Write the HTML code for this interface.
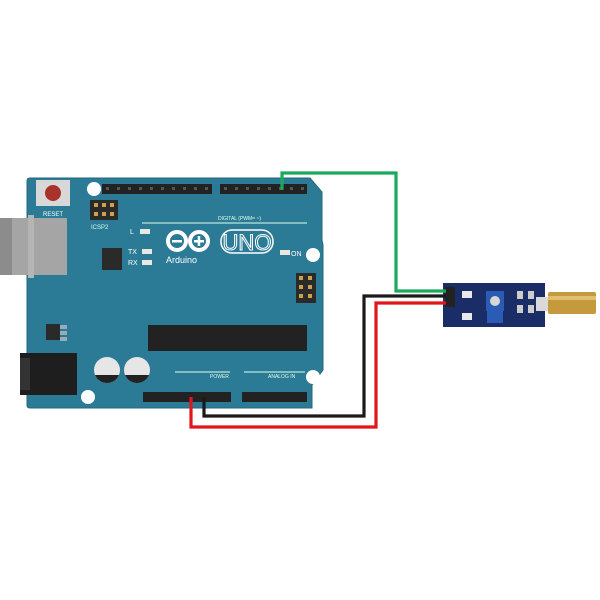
<!DOCTYPE html>
<html><head><style>body{margin:0;background:#fff}svg{display:block}</style></head><body>
<svg width="600" height="600" viewBox="0 0 600 600" xmlns="http://www.w3.org/2000/svg" font-family="Liberation Sans, sans-serif">
<rect width="600" height="600" fill="#fff"/>
<!-- board -->
<path d="M30 178 H310 L322 192 V240 L323 245 V370 L312 385 V408 H30 Q27 408 27 405 V181 Q27 178 30 178Z" fill="#2c7b96" stroke="#23677e"/>
<!-- usb -->
<rect x="0" y="218" width="67" height="57" fill="#a5a5a5"/>
<rect x="0" y="218" width="12" height="57" fill="#8c8c8c"/>
<rect x="28" y="215" width="6" height="63" fill="#b5b5b5"/>
<!-- power jack -->
<rect x="20" y="353" width="57" height="42" fill="#1e1e1e"/>
<rect x="20" y="358" width="10" height="32" fill="#333"/>
<!-- reset -->
<rect x="36" y="180" width="34" height="26" fill="#d8d8d8"/>
<circle cx="53" cy="193" r="8" fill="#a8322c"/>
<text x="53" y="216" font-size="6" fill="#fff" text-anchor="middle">RESET</text>
<!-- holes -->
<circle cx="94" cy="189" r="7" fill="#fff"/><circle cx="313" cy="255" r="7" fill="#fff"/>
<circle cx="313" cy="377" r="7" fill="#fff"/><circle cx="88" cy="397" r="7" fill="#fff"/>
<!-- icsp2 -->
<rect x="90" y="200" width="28" height="20" fill="#2a2a2a"/>
<g fill="#c9a24a"><rect x="94" y="203" width="4" height="4"/><rect x="102" y="203" width="4" height="4"/><rect x="110" y="203" width="4" height="4"/><rect x="94" y="212" width="4" height="4"/><rect x="102" y="212" width="4" height="4"/><rect x="110" y="212" width="4" height="4"/></g>
<text x="91" y="229" font-size="6" fill="#cfe">ICSP2</text>
<!-- headers top -->
<rect x="102" y="184" width="110" height="10" fill="#222"/>
<rect x="220" y="184" width="87" height="10" fill="#222"/>
<g fill="#555">
<rect x="106" y="187" width="3" height="3"/><rect x="117" y="187" width="3" height="3"/><rect x="128" y="187" width="3" height="3"/><rect x="139" y="187" width="3" height="3"/><rect x="150" y="187" width="3" height="3"/><rect x="161" y="187" width="3" height="3"/><rect x="172" y="187" width="3" height="3"/><rect x="183" y="187" width="3" height="3"/><rect x="194" y="187" width="3" height="3"/><rect x="205" y="187" width="3" height="3"/>
<rect x="224" y="187" width="3" height="3"/><rect x="235" y="187" width="3" height="3"/><rect x="246" y="187" width="3" height="3"/><rect x="257" y="187" width="3" height="3"/><rect x="268" y="187" width="3" height="3"/><rect x="279" y="187" width="3" height="3"/><rect x="290" y="187" width="3" height="3"/><rect x="301" y="187" width="3" height="3"/>
</g>
<line x1="142" y1="223" x2="307" y2="223" stroke="#dfe" stroke-width="1"/>
<text x="218" y="220" font-size="5" fill="#dfe">DIGITAL (PWM= ~)</text>
<!-- LEDs -->
<text x="130" y="234" font-size="7" fill="#fff">L</text><rect x="140" y="229" width="10" height="5" fill="#e8e8e0"/>
<text x="128" y="254" font-size="7" fill="#fff">TX</text><rect x="142" y="249" width="10" height="5" fill="#e8e8e0"/>
<text x="128" y="265" font-size="7" fill="#fff">RX</text><rect x="142" y="260" width="10" height="5" fill="#e8e8e0"/>
<rect x="280" y="250" width="10" height="5" fill="#e8e8e0"/><text x="291" y="256" font-size="7" fill="#fff">ON</text>
<rect x="102" y="248" width="20" height="22" fill="#2a2a2a"/>
<!-- logo -->
<g fill="none" stroke="#fff" stroke-width="4"><circle cx="177" cy="241" r="9"/><circle cx="199" cy="241" r="9"/></g>
<rect x="172" y="240" width="10" height="2.5" fill="#fff"/><rect x="194" y="240" width="10" height="2.5" fill="#fff"/><rect x="197.7" y="236" width="2.5" height="10" fill="#fff"/>
<rect x="221" y="230" width="52" height="23" rx="11" fill="none" stroke="#fff" stroke-width="1.5"/>
<text x="247" y="250" font-size="22" fill="none" stroke="#fff" stroke-width="1" text-anchor="middle">UNO</text>
<text x="166" y="263" font-size="9" fill="#fff">Arduino</text>
<!-- icsp -->
<rect x="296" y="273" width="20" height="30" fill="#2a2a2a"/>
<g fill="#c9a24a"><rect x="299" y="276" width="4" height="4"/><rect x="308" y="276" width="4" height="4"/><rect x="299" y="285" width="4" height="4"/><rect x="308" y="285" width="4" height="4"/><rect x="299" y="294" width="4" height="4"/><rect x="308" y="294" width="4" height="4"/></g>
<!-- regulator -->
<rect x="46" y="324" width="14" height="16" fill="#2a2a2a"/><rect x="60" y="325" width="7" height="4" fill="#9ab"/><rect x="60" y="331" width="7" height="4" fill="#9ab"/><rect x="60" y="337" width="7" height="4" fill="#9ab"/>
<!-- chip -->
<rect x="148" y="325" width="159" height="26" fill="#222"/>
<!-- caps -->
<circle cx="107" cy="370" r="13" fill="#e6e6e6"/><path d="M95 375 A13 13 0 0 0 119 375Z" fill="#222"/>
<circle cx="137" cy="370" r="13" fill="#e6e6e6"/><path d="M125 375 A13 13 0 0 0 149 375Z" fill="#222"/>
<!-- bottom -->
<line x1="175" y1="372" x2="230" y2="372" stroke="#dfe"/><line x1="244" y1="372" x2="305" y2="372" stroke="#dfe"/>
<text x="210" y="378" font-size="5" fill="#dfe">POWER</text><text x="268" y="378" font-size="5" fill="#dfe">ANALOG IN</text>
<rect x="143" y="392" width="88" height="10" fill="#222"/>
<rect x="242" y="392" width="65" height="10" fill="#222"/>
<!-- sensor -->
<rect x="443" y="283" width="102" height="44" fill="#1b2d66"/>
<rect x="445" y="287" width="10" height="20" fill="#222"/>
<rect x="486" y="291" width="18" height="20" fill="#2a5bb5"/><circle cx="495" cy="301" r="5" fill="#d7d7d7"/>
<rect x="487" y="311" width="16" height="12" fill="#2a5bb5"/>
<rect x="462" y="291" width="10" height="7" fill="#e8e8e8"/><rect x="462" y="313" width="10" height="7" fill="#e8e8e8"/>
<rect x="517" y="291" width="6" height="8" fill="#ccc"/><rect x="528" y="291" width="6" height="8" fill="#ccc"/><rect x="517" y="305" width="6" height="8" fill="#ccc"/><rect x="528" y="305" width="6" height="8" fill="#ccc"/>
<rect x="536" y="297" width="12" height="14" fill="#d9d9d9"/>
<rect x="548" y="292" width="48" height="22" rx="2" fill="#c49a3c"/>
<rect x="548" y="296" width="48" height="4" fill="#e0c070"/>
<!-- wires -->
<g fill="none" stroke-width="3.2">
<polyline points="282,190 282,173 396,173 396,291 446,291" stroke="#1aaa5c"/>
<polyline points="204,397 204,416 364,416 364,296 446,296" stroke="#1a1a1a"/>
<polyline points="191,397 191,427 376,427 376,303 446,303" stroke="#e0161b"/>
</g>
</svg>
</body></html>
